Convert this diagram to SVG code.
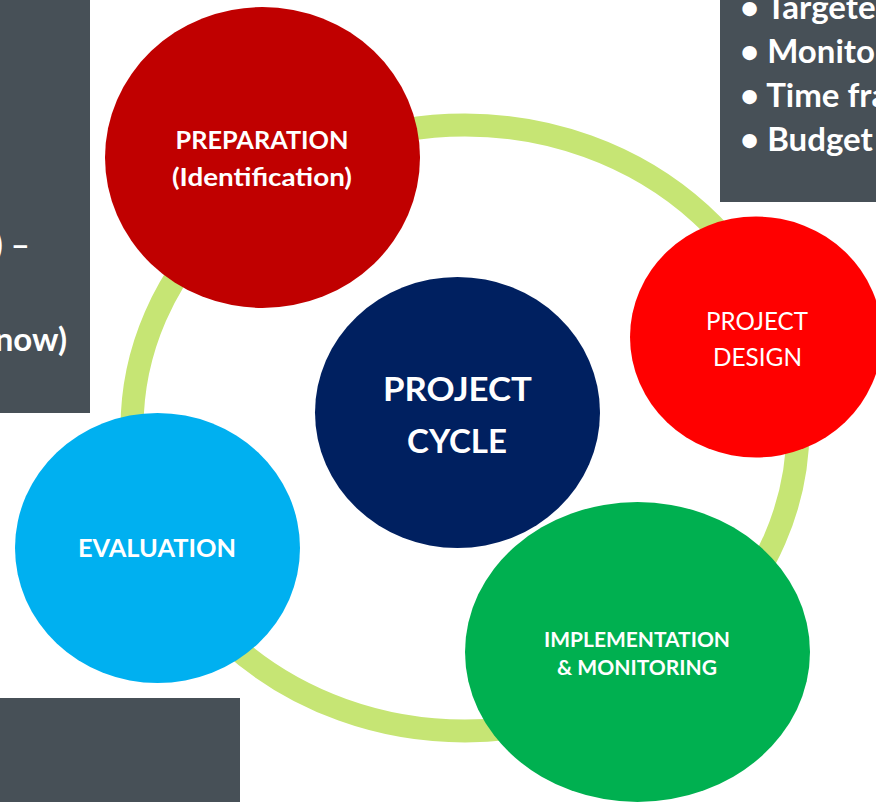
<svg xmlns="http://www.w3.org/2000/svg" width="876" height="802" viewBox="0 0 876 802">
<style>
.box{fill:#475057}
.lbl{fill:#ffffff;font-family:Lato,"Open Sans","Liberation Sans",sans-serif;text-anchor:middle;font-weight:bold}
.reg{font-weight:normal}
.side{fill:#ffffff;font-family:Lato,"Open Sans","Liberation Sans",sans-serif;font-weight:bold;font-size:33px}
</style>
<rect width="876" height="802" fill="#ffffff"/>
<g id="connectors">
<ellipse cx="465" cy="428" rx="333" ry="303" fill="none" stroke="#C6E574" stroke-width="23"/>
</g>
<g id="box-left">
<rect class="box" x="0" y="0" width="90" height="413"/>
<text class="side" x="30" y="256" text-anchor="end">) –</text>
<text class="side" x="67" y="351" text-anchor="end">now)</text>
</g>
<g id="box-right">
<rect class="box" x="720" y="0" width="156" height="202"/>
<text class="side" x="740" y="19">• Targeted</text>
<text class="side" x="740" y="63">• Monito</text>
<text class="side" x="740" y="107">• Time fra</text>
<text class="side" x="740" y="151">• Budget</text>
</g>
<g id="box-bottom">
<rect class="box" x="0" y="698" width="240" height="104"/>
</g>
<g id="preparation">
<ellipse cx="262.5" cy="157.5" rx="157.5" ry="150.5" fill="#C00000"/>
<text class="lbl" x="262" y="149" font-size="24.5" textLength="173" lengthAdjust="spacingAndGlyphs">PREPARATION</text>
<text class="lbl" x="262" y="186" font-size="24.5" textLength="180" lengthAdjust="spacingAndGlyphs">(Identification)</text>
</g>
<g id="project-design">
<ellipse cx="756" cy="337" rx="126" ry="120.5" fill="#FF0000"/>
<text class="lbl reg" x="757" y="330" font-size="25" textLength="102" lengthAdjust="spacingAndGlyphs">PROJECT</text>
<text class="lbl reg" x="757.5" y="366" font-size="25" textLength="89" lengthAdjust="spacingAndGlyphs">DESIGN</text>
</g>
<g id="project-cycle">
<ellipse cx="457.5" cy="412.5" rx="142.5" ry="135.5" fill="#002060"/>
<text class="lbl" x="457.5" y="401" font-size="33" textLength="149" lengthAdjust="spacingAndGlyphs">PROJECT</text>
<text class="lbl" x="457" y="453" font-size="33" textLength="100" lengthAdjust="spacingAndGlyphs">CYCLE</text>
</g>
<g id="evaluation">
<ellipse cx="157.5" cy="548" rx="142.5" ry="135" fill="#00B0F0"/>
<text class="lbl" x="157" y="557" font-size="25" textLength="158" lengthAdjust="spacingAndGlyphs">EVALUATION</text>
</g>
<g id="implementation">
<ellipse cx="637.5" cy="652" rx="172.5" ry="150" fill="#00B050"/>
<text class="lbl" x="637" y="647" font-size="21" textLength="186" lengthAdjust="spacingAndGlyphs">IMPLEMENTATION</text>
<text class="lbl" x="637" y="675" font-size="21" textLength="160" lengthAdjust="spacingAndGlyphs">&amp; MONITORING</text>
</g>
</svg>
